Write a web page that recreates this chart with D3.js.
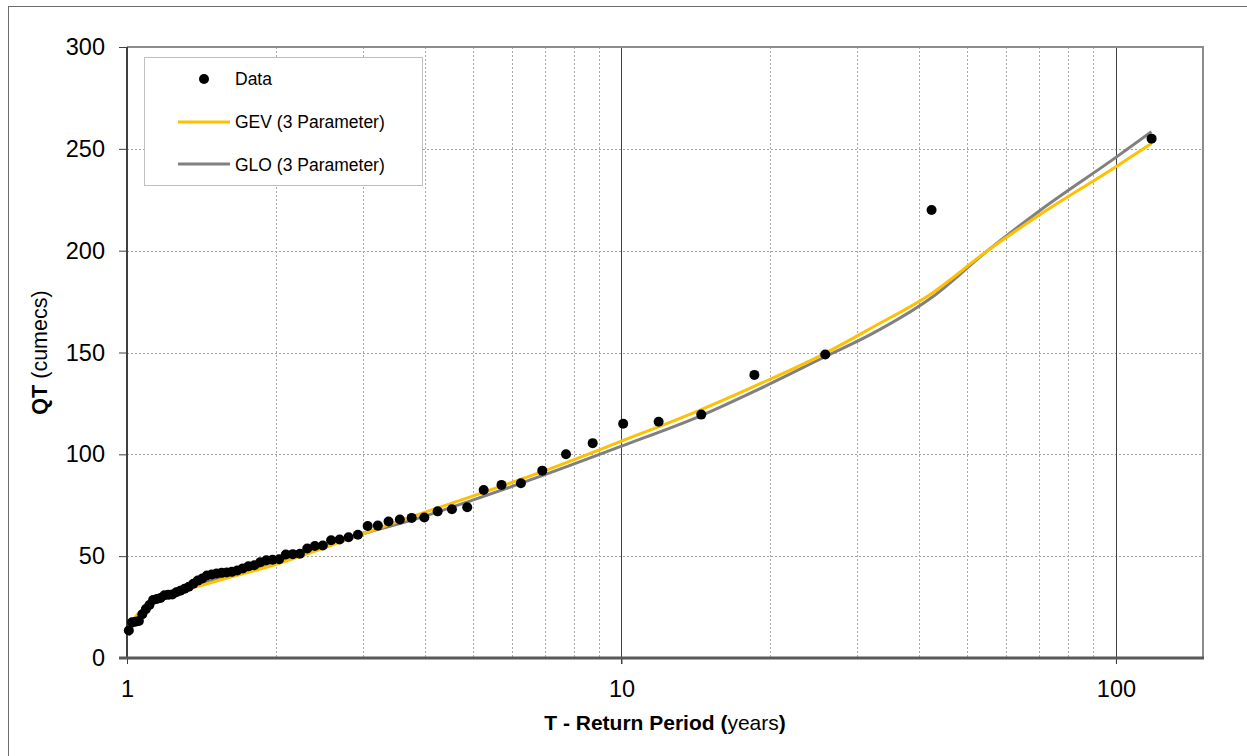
<!DOCTYPE html>
<html>
<head>
<meta charset="utf-8">
<script src="https://cdn.jsdelivr.net/npm/d3@7"></script>
<style>
  body { margin: 0; background: #fff; }
  text { font-family: Arial, "Liberation Sans", sans-serif; }
</style>
</head>
<body>
<div id="chart"></div>
<script>
// Annual maxima, ranked (plotting position T, flow QT)
var returnPeriod = [118.07, 42.38, 25.83, 18.57, 14.50, 11.89, 10.08, 8.746, 7.724, 6.916,
    6.261, 5.720, 5.264, 4.876, 4.541, 4.249, 3.993, 3.765, 3.563, 3.380,
    3.216, 3.067, 2.931, 2.806, 2.692, 2.587, 2.489, 2.399, 2.315, 2.237,
    2.164, 2.095, 2.031, 1.970, 1.913, 1.859, 1.809, 1.760, 1.715, 1.671,
    1.630, 1.591, 1.554, 1.518, 1.484, 1.451, 1.420, 1.390, 1.362, 1.334,
    1.308, 1.282, 1.258, 1.235, 1.212, 1.190, 1.169, 1.149, 1.129, 1.110,
    1.092, 1.074, 1.057, 1.040, 1.024, 1.0085];
var flowQT = [255, 220, 149, 139, 119.5, 116, 115, 105.5, 100, 92,
    85.8, 85, 82.5, 74, 73, 72, 69, 68.8, 68, 67,
    65, 64.8, 60.5, 59.3, 58.2, 57.8, 55.2, 55, 53.8, 51.2,
    51, 50.8, 48.5, 48.2, 48, 47, 45.5, 45, 44, 43,
    42.3, 42, 41.8, 41.5, 41, 40.5, 39, 38, 36.5, 35,
    34, 33, 32.3, 31.2, 31, 30.8, 29.5, 29, 28.5, 26,
    24, 21.5, 18.2, 17.8, 17.5, 13.5];

// Fitted distributions
var curveT = [1.0085, 1.04, 1.1, 1.2, 1.48, 2, 2.5, 3, 3.77, 5, 7, 10, 14.5, 18.6, 25.8, 32, 42.4, 55, 70, 100, 118];
var gevQT = [13, 20, 25, 30, 37, 46, 54, 61, 69.4, 79.5, 92, 106.5, 122, 133.5, 149.6, 162, 179, 200, 217.5, 241.2, 252.7];
var gloQT = [11, 19, 25, 30.5, 38, 47, 54.5, 61, 67.7, 77.5, 90, 104, 119, 131, 147.9, 159, 177, 200, 219.5, 245.8, 258.4];

var yTicks = [0, 50, 100, 150, 200, 250, 300];
var xMajor = [1, 10, 100];
var xMinor = [2, 3, 4, 5, 6, 7, 8, 9, 20, 30, 40, 50, 60, 70, 80, 90];

var margin = {top: 47, right: 44, bottom: 98, left: 127};
var width = 1247 - margin.left - margin.right;
var height = 756 - margin.top - margin.bottom;

var root = d3.select("#chart")
    .append("svg")
    .attr("width", 1247)
    .attr("height", 756);

// outer chart border
root.append("rect")
    .attr("x", 8.5).attr("y", 6.5)
    .attr("width", 1300).attr("height", 800)
    .attr("fill", "none")
    .attr("stroke", "#6d6d6d")
    .attr("stroke-width", 1);

var svg = root.append("g")
    .attr("transform", `translate(${margin.left},${margin.top})`);

var xScale = d3.scaleLog().domain([1, 150]).range([0, width]);
var yScale = d3.scaleLinear().domain([0, 300]).range([height, 0]);

// gridlines
svg.selectAll(".hgrid")
    .data(yTicks.filter(d => d > 0 && d < 300))
    .enter().append("line")
    .attr("x1", 0).attr("x2", width)
    .attr("y1", d => Math.round(yScale(d)) + 0.5)
    .attr("y2", d => Math.round(yScale(d)) + 0.5)
    .attr("stroke", "#a0a0a0")
    .attr("stroke-dasharray", "2,2");

svg.selectAll(".vgrid")
    .data(xMinor)
    .enter().append("line")
    .attr("x1", d => Math.round(xScale(d)) + 0.5)
    .attr("x2", d => Math.round(xScale(d)) + 0.5)
    .attr("y1", 0).attr("y2", height)
    .attr("stroke", "#a8a8a8")
    .attr("stroke-dasharray", "2,2");

svg.selectAll(".vmajor")
    .data([10, 100])
    .enter().append("line")
    .attr("x1", d => Math.round(xScale(d)) + 0.5)
    .attr("x2", d => Math.round(xScale(d)) + 0.5)
    .attr("y1", 0).attr("y2", height + 6)
    .attr("stroke", "#404040")
    .attr("stroke-width", 1);

// plot frame (top and right)
svg.append("path")
    .attr("d", `M0,0H${width}V${height}`)
    .attr("fill", "none")
    .attr("stroke", "#8c8c8c")
    .attr("stroke-width", 2);

// axes
var yAxis = d3.axisLeft(yScale).tickValues(yTicks).tickSize(8).tickPadding(14);
svg.append("g").call(yAxis)
    .call(g => g.select(".domain").remove())
    .call(g => g.selectAll("line").attr("stroke", "#404040"))
    .call(g => g.selectAll("text")
        .attr("font-size", "23.5px")
        .attr("fill", "#000")
        .attr("font-family", "Arial, 'Liberation Sans', sans-serif"));

var xAxis = d3.axisBottom(xScale).tickValues(xMajor).tickFormat(d3.format("d")).tickSize(6).tickPadding(16);
svg.append("g")
    .attr("transform", `translate(0,${height})`)
    .call(xAxis)
    .call(g => g.select(".domain").remove())
    .call(g => g.selectAll("line").attr("stroke", "#404040"))
    .call(g => g.selectAll("text")
        .attr("font-size", "23.5px")
        .attr("fill", "#000")
        .attr("font-family", "Arial, 'Liberation Sans', sans-serif"));

svg.append("line")
    .attr("x1", 0).attr("x2", 0).attr("y1", 0).attr("y2", height)
    .attr("stroke", "#404040").attr("stroke-width", 2);
svg.append("line")
    .attr("x1", -8).attr("x2", width + 1).attr("y1", height).attr("y2", height)
    .attr("stroke", "#595959").attr("stroke-width", 3);

// fitted curves
var curveLine = d3.line()
    .x(d => xScale(d[0]))
    .y(d => yScale(d[1]))
    .curve(d3.curveMonotoneX);

svg.append("path")
    .datum(d3.zip(curveT, gloQT))
    .attr("d", curveLine)
    .attr("fill", "none")
    .attr("stroke", "#808080")
    .attr("stroke-width", 3);

svg.append("path")
    .datum(d3.zip(curveT, gevQT))
    .attr("d", curveLine)
    .attr("fill", "none")
    .attr("stroke", "#ffc000")
    .attr("stroke-width", 3);

// data points
svg.selectAll(".dot")
    .data(d3.zip(returnPeriod, flowQT))
    .enter().append("circle")
    .attr("class", "dot")
    .attr("cx", d => xScale(d[0]))
    .attr("cy", d => yScale(d[1]))
    .attr("r", 5)
    .attr("fill", "#000");

// legend
var legend = root.append("g").attr("transform", "translate(144,57)");
legend.append("rect")
    .attr("x", 0.5).attr("y", 0.5)
    .attr("width", 278).attr("height", 128)
    .attr("fill", "#fff")
    .attr("stroke", "#c0c0c0");

legend.append("circle").attr("cx", 60).attr("cy", 22).attr("r", 5).attr("fill", "#000");
legend.append("line").attr("x1", 34).attr("x2", 86).attr("y1", 65).attr("y2", 65)
    .attr("stroke", "#ffc000").attr("stroke-width", 3);
legend.append("line").attr("x1", 34).attr("x2", 86).attr("y1", 107).attr("y2", 107)
    .attr("stroke", "#808080").attr("stroke-width", 3);

legend.selectAll(".ltext")
    .data(["Data", "GEV (3 Parameter)", "GLO (3 Parameter)"])
    .enter().append("text")
    .attr("x", 91)
    .attr("y", (d, i) => 22 + i * 43)
    .attr("dy", "0.35em")
    .attr("font-size", "17.5px")
    .text(d => d);

// axis titles
var xt = root.append("text")
    .attr("x", margin.left + width / 2)
    .attr("y", 730)
    .attr("text-anchor", "middle")
    .attr("font-size", "21px");
xt.append("tspan").attr("font-weight", "bold").text("T - Return Period (");
xt.append("tspan").text("years");
xt.append("tspan").attr("font-weight", "bold").text(")");

var yt = root.append("text")
    .attr("transform", `translate(47,${margin.top + height / 2}) rotate(-90)`)
    .attr("text-anchor", "middle")
    .attr("font-size", "21.5px");
yt.append("tspan").attr("font-weight", "bold").text("QT ");
yt.append("tspan").text("(cumecs)");
</script>
</body>
</html>
